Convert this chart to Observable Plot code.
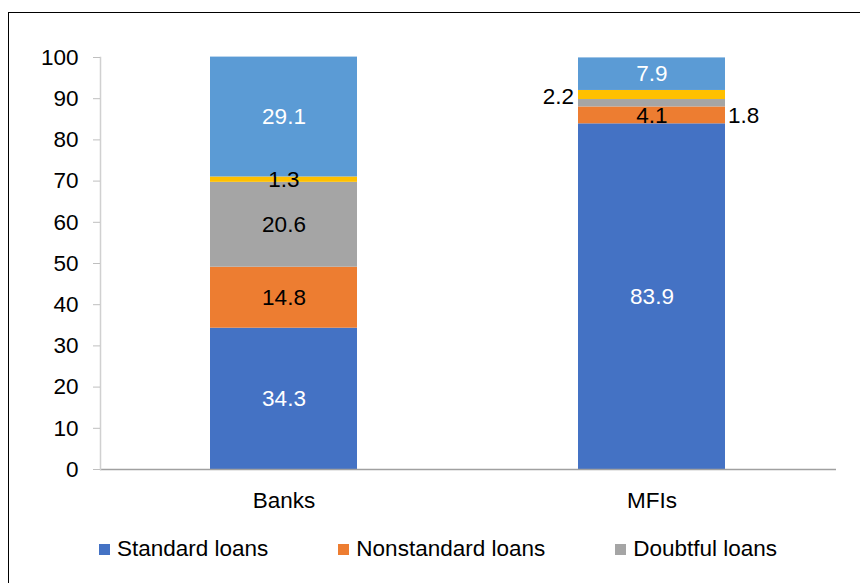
<!DOCTYPE html>
<html>
<head>
<meta charset="utf-8">
<script src="https://cdn.jsdelivr.net/npm/d3@7"></script>
<script src="https://cdn.jsdelivr.net/npm/@observablehq/plot@0.6"></script>
<style>
  html, body { margin: 0; padding: 0; background: #fff; overflow: hidden; }
  body { width: 860px; height: 583px; position: relative; font-family: "Liberation Sans", Arial, sans-serif; }
  #frame { position: absolute; left: 8px; top: 12px; width: 900px; height: 640px; border: 1.5px solid #000; box-sizing: border-box; }
  #chart { position: absolute; left: 0; top: 0; }
  #legend { position: absolute; left: 99px; top: 537px; display: flex; gap: 70px; font-size: 22.5px; color: #000; white-space: nowrap; }
  .item { display: flex; align-items: center; height: 24px; }
  .sw { width: 11px; height: 11px; margin-right: 7px; }
</style>
</head>
<body>
<div id="frame"></div>
<div id="chart"></div>
<div id="legend"></div>
<script>
const categories = ["Banks", "MFIs"];
const series = ["Standard loans", "Nonstandard loans", "Doubtful loans", "Loss loans", "Other loans"];
const banksValues = [34.3, 14.8, 20.6, 1.3, 29.1];
const mfisValues = [83.9, 4.1, 1.8, 2.2, 7.9];
const seriesColors = ["#4472C4", "#ED7D31", "#A5A5A5", "#FFC000", "#5B9BD5"];
const yTicks = [0, 10, 20, 30, 40, 50, 60, 70, 80, 90, 100];
const legendSeries = ["Standard loans", "Nonstandard loans", "Doubtful loans"];

const valuesByCategory = {Banks: banksValues, MFIs: mfisValues};
const data = [];
series.forEach((s, i) => {
  categories.forEach(c => data.push({category: c, series: s, value: valuesByCategory[c][i]}));
});

const FS = 22.5;
const whiteSeries = new Set(["Standard loans", "Other loans"]);
const isOutside = d => d.category === "MFIs" && (d.series === "Doubtful loans" || d.series === "Loss loans");
const fmt = d => d.value.toFixed(1);
const stackOpts = (text) => ({x: "category", y: "value", text});

const chart = Plot.plot({
  width: 860,
  height: 520,
  marginLeft: 100,
  marginRight: 24,
  marginTop: 57,
  marginBottom: 51,
  style: {fontFamily: "'Liberation Sans', Arial, sans-serif", fontSize: FS + "px", color: "#000", background: "transparent"},
  x: {domain: categories, paddingInner: 0.6, paddingOuter: 0.3, label: null},
  y: {domain: [0, 100], label: null},
  color: {domain: series, range: seriesColors},
  marks: [
    Plot.barY(data, Plot.stackY({x: "category", y: "value", fill: "series"})),
    Plot.ruleY([0], {stroke: "#A0A0A0", strokeWidth: 1.5}),
    Plot.frame({anchor: "left", stroke: "#D0D0D0", strokeWidth: 1.5}),
    Plot.axisY({ticks: yTicks, tickSize: 7, tickPadding: 15, stroke: "#BFBFBF", fill: "#000", fontSize: FS, label: null}),
    Plot.axisX({tickSize: 0, tickPadding: 23, fill: "#000", fontSize: FS, label: null}),
    Plot.text(data, {...Plot.stackY(stackOpts(d => whiteSeries.has(d.series) ? fmt(d) : null)), fill: "#fff", fontSize: FS}),
    Plot.text(data, {...Plot.stackY(stackOpts(d => !whiteSeries.has(d.series) && !isOutside(d) ? fmt(d) : null)), fill: "#000", fontSize: FS}),
    Plot.text(data, {...Plot.stackY(stackOpts(d => isOutside(d) && d.series === "Loss loans" ? fmt(d) : null)), fill: "#000", fontSize: FS, textAnchor: "end", dx: -78, dy: 1.5}),
    Plot.text(data, {...Plot.stackY(stackOpts(d => isOutside(d) && d.series === "Doubtful loans" ? fmt(d) : null)), fill: "#000", fontSize: FS, textAnchor: "start", dx: 76, dy: 13})
  ]
});
document.getElementById("chart").appendChild(chart);

const legend = document.getElementById("legend");
legendSeries.forEach(s => {
  const item = document.createElement("div");
  item.className = "item";
  const sw = document.createElement("span");
  sw.className = "sw";
  sw.style.background = seriesColors[series.indexOf(s)];
  const t = document.createElement("span");
  t.textContent = s;
  item.appendChild(sw);
  item.appendChild(t);
  legend.appendChild(item);
});
</script>
</body>
</html>
